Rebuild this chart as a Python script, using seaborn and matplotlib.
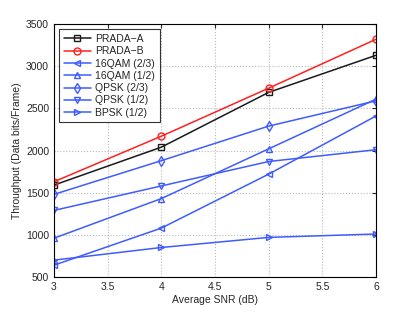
import matplotlib
matplotlib.use("Agg")
import matplotlib.pyplot as plt
import seaborn as sns
import pandas as pd

snr = [3, 4, 5, 6]
prada_a = [1590, 2040, 2690, 3130]
prada_b = [1630, 2170, 2740, 3320]
qam16_23 = [640, 1080, 1720, 2410]
qam16_12 = [960, 1430, 2020, 2610]
qpsk_23 = [1480, 1880, 2290, 2590]
qpsk_12 = [1290, 1580, 1870, 2010]
bpsk_12 = [700, 850, 970, 1010]

names = ["PRADA\u2212A", "PRADA\u2212B", "16QAM (2/3)", "16QAM (1/2)",
         "QPSK (2/3)", "QPSK (1/2)", "BPSK (1/2)"]
series = [prada_a, prada_b, qam16_23, qam16_12, qpsk_23, qpsk_12, bpsk_12]
blue = "#3f5cff"
colors = ["#1a1a1a", "#ff2020", blue, blue, blue, blue, blue]
markers = ["s", "o", "<", "^", "d", "v", ">"]

rows = []
for n, s in zip(names, series):
    for x, y in zip(snr, s):
        rows.append({"snr": x, "thr": y, "series": n})
df = pd.DataFrame(rows)

sns.set_style("white")
plt.rcParams['font.family'] = ['Liberation Sans', 'DejaVu Sans']
fig = plt.figure(figsize=(4.15, 3.13), dpi=100)
ax = fig.add_axes([0.13, 0.115, 0.776, 0.808])

for n, c, m in zip(names, colors, markers):
    sub = df[df["series"] == n]
    sns.lineplot(data=sub, x="snr", y="thr", ax=ax, color=c, marker=m,
                 markersize=5, markerfacecolor="none", markeredgecolor=c,
                 markeredgewidth=1.0, linewidth=1.1, label=n, legend=False)

ax.set_xlim(3, 6)
ax.set_ylim(500, 3500)
ax.set_xticks([3, 3.5, 4, 4.5, 5, 5.5, 6])
ax.set_xticklabels(["3", "3.5", "4", "4.5", "5", "5.5", "6"])
ax.set_yticks(range(500, 3501, 500))
ax.tick_params(direction="in", labelsize=7.5, length=3, top=True, right=True)
ax.grid(True, linestyle=":", color="#b8b8b8", linewidth=0.8)
for sp in ax.spines.values():
    sp.set_color("black")
    sp.set_linewidth(0.8)
ax.set_xlabel("Average SNR (dB)", fontsize=7.5, labelpad=2)
ax.set_ylabel("Throughput (Data bits/Frame)", fontsize=7.5, labelpad=3)
leg = ax.legend(loc="upper left", fontsize=7.5, frameon=True, fancybox=False,
                edgecolor="black", borderpad=0.45, labelspacing=0.22,
                handlelength=2.6, handletextpad=0.4, borderaxespad=0.5)
leg.get_frame().set_linewidth(0.8)
fig.savefig("out.png", dpi=100)
